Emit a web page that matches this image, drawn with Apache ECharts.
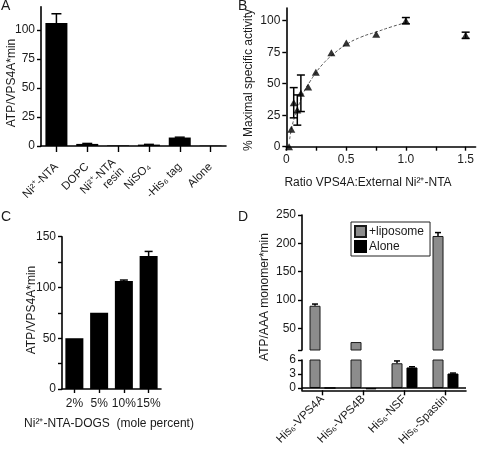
<!DOCTYPE html>
<html><head><meta charset="utf-8">
<script src="https://cdn.jsdelivr.net/npm/echarts@6/dist/echarts.min.js"></script>
<style>html,body{margin:0;padding:0;background:#fff}#c{width:477px;height:449px}</style>
</head><body><div id="c"></div>
<script>
// ---- Panel A ----
const catsA = ['Ni²⁺-NTA', 'DOPC', 'Ni²⁺-NTA\nresin', 'NiSO₄', '-His₆ tag', 'Alone'];
const valsA = [106, 1.8, 0.5, 1.2, 7.3, 0.3];
const errA  = [8, 0.4, 0, 0.2, 0.3, 0];
const ticksA = [0, 25, 50, 75, 100];
// ---- Panel B ----
const ratioB = [0.023, 0.042, 0.062, 0.092, 0.122, 0.183, 0.247, 0.377, 0.502, 0.752, 1.0, 1.5];
const actB   = [0, 13.8, 34.9, 29.1, 42.4, 47.3, 59, 74.5, 82.3, 89.3, 100, 88.4];
const errB   = [0, 0, 12, 12, 14.5, 0, 0, 0, 0, 0, 2.5, 2.5];
const fitX   = [0.028, 0.05, 0.075, 0.1, 0.15, 0.2, 0.25, 0.3, 0.375, 0.5, 0.625, 0.75, 0.875, 1.0];
const fitY   = [6, 17, 25, 32, 44, 52, 59, 65, 72, 81, 87, 91, 95, 98.5];
const ticksBx = [0, 0.25, 0.5, 0.75, 1, 1.25, 1.5];
const labelsBx = [0, 0.5, 1, 1.5];
const ticksBy = [0, 25, 50, 75, 100];
// ---- Panel C ----
const catsC = ['2%', '5%', '10%', '15%'];
const valsC = [50, 75.2, 106.3, 131];
const errC  = [0, 0, 1, 4.5];
const ticksC = [0, 25, 50, 75, 100, 125, 150];
const labelsC = [0, 50, 100, 150];
// ---- Panel D ----
const catsD = ['His₆-VPS4A', 'His₆-VPS4B', 'His₆-NSF', 'His₆-Spastin'];
const lipoD  = [90, 26, 5.3, 213];
const aloneD = [0, -0.3, 4.4, 3.1];
const lipoErrD  = [3, 0, 0.5, 6];
const aloneErrD = [0, 0, 0.15, 0.1];
const upperTicksD = [50, 100, 150, 200, 250];
const lowerTicksD = [0, 3, 6];

const FONT = 'Liberation Sans';
const TXT = '#1a1a1a';

function errRender(capW, offset, both) {
  return function (params, api) {
    const x = api.value(0), v = api.value(1), e = api.value(2);
    if (!e) return { type: 'group', children: [] };
    const p = api.coord([x, v + e]);
    const q = api.coord([x, both ? v - e : v]);
    const px = p[0] + offset;
    const st = { stroke: '#000', lineWidth: 1.5 };
    const ch = [
      { type: 'line', shape: { x1: px, y1: p[1], x2: px, y2: q[1] }, style: st },
      { type: 'line', shape: { x1: px - capW / 2, y1: p[1], x2: px + capW / 2, y2: p[1] }, style: st }
    ];
    if (both) ch.push({ type: 'line', shape: { x1: px - capW / 2, y1: q[1], x2: px + capW / 2, y2: q[1] }, style: st });
    return { type: 'group', children: ch };
  };
}

const axLine = { show: true, lineStyle: { color: '#000', width: 1.6 } };
const axTick = { show: true, length: 4, lineStyle: { color: '#000', width: 1.4 } };
const lab = { color: TXT, fontFamily: FONT, fontSize: 11 };

const chart = echarts.init(document.getElementById('c'), null, { renderer: 'canvas' });
const option = {
  animation: false,
  textStyle: { fontFamily: FONT },
  grid: [
    { left: 41, top: 6.8, width: 185, height: 139.2 },     // A
    { left: 286.3, top: 8.1, width: 190, height: 138.6 },  // B
    { left: 62, top: 236.7, width: 99, height: 152.3 },    // C
    { left: 302, top: 215, width: 164, height: 135 },      // D upper
    { left: 302, top: 360, width: 164, height: 30.3 }      // D lower
  ],
  xAxis: [
    { gridIndex: 0, type: 'category', data: catsA, axisLine: axLine,
      axisTick: Object.assign({ alignWithLabel: true }, axTick, { length: 6 }),
      axisLabel: Object.assign({ rotate: 45, margin: 19, interval: 0, lineHeight: 12 }, lab, { fontSize: 11.5 }) },
    { gridIndex: 1, type: 'value', min: 0, max: 1.583, axisLine: axLine,
      axisTick: Object.assign({ customValues: ticksBx }, axTick), splitLine: { show: false },
      axisLabel: Object.assign({ customValues: labelsBx, margin: 7, formatter: v => v === 0 ? '0' : v.toFixed(1) }, lab, { fontSize: 12 }) },
    { gridIndex: 2, type: 'category', data: catsC, axisLine: axLine,
      axisTick: Object.assign({ alignWithLabel: true }, axTick),
      axisLabel: Object.assign({ margin: 9, interval: 0 }, lab, { fontSize: 12 }) },
    { gridIndex: 3, type: 'category', data: catsD, show: false },
    { gridIndex: 4, type: 'category', data: catsD, axisLine: Object.assign({ onZero: false }, axLine),
      axisTick: Object.assign({ alignWithLabel: true }, axTick, { length: 5 }),
      axisLabel: Object.assign({ rotate: 45, margin: 7, interval: 0 }, lab, { fontSize: 11.5 }) }
  ],
  yAxis: [
    { gridIndex: 0, type: 'value', min: 0, max: 120, axisLine: axLine, splitLine: { show: false },
      axisTick: Object.assign({ customValues: ticksA }, axTick),
      axisLabel: Object.assign({ customValues: ticksA, margin: 6 }, lab, { fontSize: 12 }) },
    { gridIndex: 1, type: 'value', min: 0, max: 110, axisLine: axLine, splitLine: { show: false },
      axisTick: Object.assign({ customValues: ticksBy }, axTick),
      axisLabel: Object.assign({ customValues: ticksBy, margin: 6 }, lab, { fontSize: 12 }) },
    { gridIndex: 2, type: 'value', min: 0, max: 150, axisLine: axLine, splitLine: { show: false },
      axisTick: Object.assign({ customValues: ticksC }, axTick),
      axisLabel: Object.assign({ customValues: labelsC, margin: 6 }, lab, { fontSize: 12 }) },
    { gridIndex: 3, type: 'value', min: 12, max: 250, axisLine: axLine, splitLine: { show: false },
      axisTick: Object.assign({ customValues: [12].concat(upperTicksD) }, axTick),
      axisLabel: Object.assign({ customValues: upperTicksD, margin: 6 }, lab, { fontSize: 12 }) },
    { gridIndex: 4, type: 'value', min: -0.5, max: 6, axisLine: axLine, splitLine: { show: false },
      axisTick: Object.assign({ customValues: lowerTicksD }, axTick),
      axisLabel: Object.assign({ customValues: lowerTicksD, margin: 6 }, lab, { fontSize: 12 }) }
  ],
  legend: {
    data: ['+liposome', 'Alone'], orient: 'vertical', left: 351, top: 222,
    borderColor: '#222', borderWidth: 1, padding: [3, 6, 3, 3], itemGap: 2,
    itemWidth: 11, itemHeight: 11, icon: 'rect',
    textStyle: { color: TXT, fontFamily: FONT, fontSize: 12, padding: [0, 0, 0, -2] }
  },
  series: [
    // A
    { type: 'bar', xAxisIndex: 0, yAxisIndex: 0, data: valsA, barWidth: 22,
      itemStyle: { color: '#000' } },
    { type: 'custom', xAxisIndex: 0, yAxisIndex: 0, renderItem: errRender(10, 0, false),
      data: valsA.map((v, i) => [i, v, errA[i]]), z: 5 },
    // B
    { type: 'line', xAxisIndex: 1, yAxisIndex: 1, data: fitX.map((x, i) => [x, fitY[i]]),
      smooth: true, showSymbol: false, symbol: 'none',
      lineStyle: { color: '#555', width: 1, type: [3, 2] } },
    { type: 'custom', xAxisIndex: 1, yAxisIndex: 1, renderItem: errRender(8, 0, true),
      data: ratioB.map((x, i) => [x, actB[i], errB[i]]), z: 4 },
    { type: 'scatter', xAxisIndex: 1, yAxisIndex: 1, data: ratioB.map((x, i) => [x, actB[i]]),
      symbol: 'triangle', symbolSize: [8, 7], itemStyle: { color: '#000' }, z: 5 },
    // C
    { type: 'bar', xAxisIndex: 2, yAxisIndex: 2, data: valsC, barWidth: 18,
      itemStyle: { color: '#000' } },
    { type: 'custom', xAxisIndex: 2, yAxisIndex: 2, renderItem: errRender(8, 0, false),
      data: valsC.map((v, i) => [i, v, errC[i]]), z: 5 },
    // D upper
    { name: '+liposome', type: 'bar', xAxisIndex: 3, yAxisIndex: 3, data: lipoD, barWidth: 11, barGap: '36%',
      itemStyle: { color: '#8c8c8c', borderColor: '#1a1a1a', borderWidth: 1 } },
    { name: 'Alone', type: 'bar', xAxisIndex: 3, yAxisIndex: 3, data: aloneD, barWidth: 11, barGap: '36%',
      itemStyle: { color: '#000', borderColor: '#000', borderWidth: 1 } },
    { type: 'custom', xAxisIndex: 3, yAxisIndex: 3, renderItem: errRender(6, -7.5, false),
      data: lipoD.map((v, i) => [i, v, v > 12 ? lipoErrD[i] : 0]), z: 5 },
    // D lower
    { name: '+liposome', type: 'bar', xAxisIndex: 4, yAxisIndex: 4, data: lipoD, barWidth: 11, barGap: '36%',
      itemStyle: { color: '#8c8c8c', borderColor: '#1a1a1a', borderWidth: 1 },
      markLine: { silent: true, symbol: 'none', label: { show: false },
        lineStyle: { color: '#000', width: 1.5, type: 'solid' }, data: [{ yAxis: 0 }] } },
    { name: 'Alone', type: 'bar', xAxisIndex: 4, yAxisIndex: 4, data: aloneD, barWidth: 11, barGap: '36%',
      itemStyle: { color: '#000', borderColor: '#000', borderWidth: 1 } },
    { type: 'custom', xAxisIndex: 4, yAxisIndex: 4, renderItem: errRender(6, -7.5, false),
      data: lipoD.map((v, i) => [i, v, v < 6 ? lipoErrD[i] : 0]), z: 5 },
    { type: 'custom', xAxisIndex: 4, yAxisIndex: 4, renderItem: errRender(6, 7.5, false),
      data: aloneD.map((v, i) => [i, v, aloneErrD[i]]), z: 5 }
  ],
  graphic: [
    { type: 'text', left: 1, top: -1, style: { text: 'A', font: '14px ' + FONT, fill: TXT } },
    { type: 'text', left: 238, top: -1, style: { text: 'B', font: '14px ' + FONT, fill: TXT } },
    { type: 'text', left: 1, top: 210, style: { text: 'C', font: '14px ' + FONT, fill: TXT } },
    { type: 'text', left: 238, top: 210, style: { text: 'D', font: '14px ' + FONT, fill: TXT } },
    { type: 'text', x: 12, y: 83, rotation: Math.PI / 2,
      style: { text: 'ATP/VPS4A*min', font: '12px ' + FONT, fill: TXT, align: 'center', verticalAlign: 'middle' } },
    { type: 'text', x: 249, y: 80, rotation: Math.PI / 2,
      style: { text: '% Maximal specific activity', font: '12px ' + FONT, fill: TXT, align: 'center', verticalAlign: 'middle' } },
    { type: 'text', x: 368, y: 183,
      style: { text: 'Ratio VPS4A:External Ni²⁺-NTA', font: '12px ' + FONT, fill: TXT, align: 'center', verticalAlign: 'middle' } },
    { type: 'text', x: 32, y: 310, rotation: Math.PI / 2,
      style: { text: 'ATP/VPS4A*min', font: '12px ' + FONT, fill: TXT, align: 'center', verticalAlign: 'middle' } },
    { type: 'text', x: 109, y: 424,
      style: { text: 'Ni²⁺-NTA-DOGS  (mole percent)', font: '12px ' + FONT, fill: TXT, align: 'center', verticalAlign: 'middle' } },
    { type: 'text', x: 265, y: 297, rotation: Math.PI / 2,
      style: { text: 'ATP/AAA monomer*min', font: '12px ' + FONT, fill: TXT, align: 'center', verticalAlign: 'middle' } }
  ]
};
chart.setOption(option);
</script>
</body></html>
